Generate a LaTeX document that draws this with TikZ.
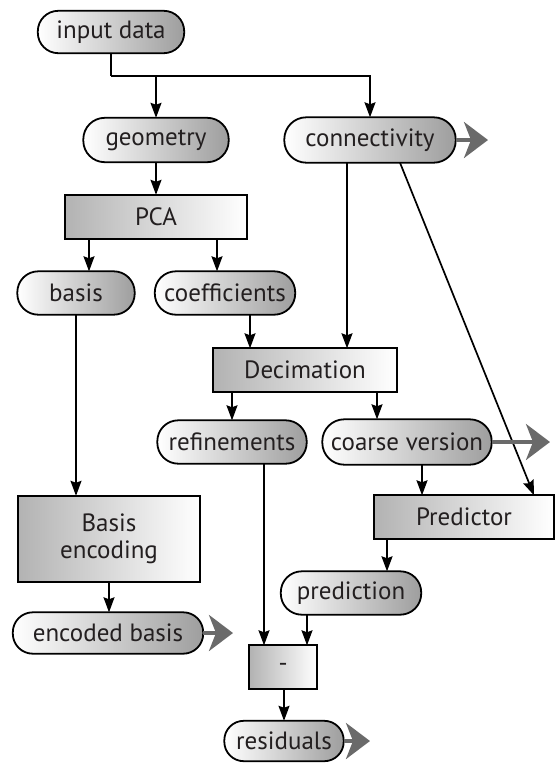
\documentclass[tikz,border=0pt]{standalone}
\usepackage{fontspec}
\setmainfont{PT Sans}
\usetikzlibrary{shapes.misc,arrows.meta}
\definecolor{txt}{HTML}{231F20}
\definecolor{bord}{HTML}{000000}
\definecolor{garrow}{HTML}{6A6A6A}
\tikzset{
  pill/.style={rounded rectangle, inner sep=0pt,
    text=txt, font=\fontsize{25}{28}\selectfont,
    path picture={\shade[left color=white, right color=black!38]
      (path picture bounding box.south west) rectangle (path picture bounding box.north east);}},
  box/.style={rectangle, inner sep=0pt,
    text=txt, font=\fontsize{25}{28}\selectfont, align=center,
    path picture={\shade[left color=black!30, right color=white]
      (path picture bounding box.south west) rectangle (path picture bounding box.north east);}},
  edge/.style={draw=bord, line width=1.8pt},
  arr/.style={line width=1.7pt, -{Stealth[length=15pt,width=11pt,inset=2pt]}},
  ln/.style={line width=1.7pt},
  outarr/.style={line width=4pt, draw=garrow, -{Stealth[length=24pt,width=36pt,inset=7pt]}},
}
\newcommand\pillrim[2]{\draw[edge, rounded corners=#2pt] (#1.west |- #1.north) rectangle (#1.east |- #1.south);}
\newcommand\boxrim[1]{\draw[edge] (#1.north west) rectangle (#1.south east);}
\begin{document}
\begin{tikzpicture}[x=1pt,y=-1pt]
\useasboundingbox (0,0) rectangle (555,763);
% pills
\node[pill, minimum width=146pt, minimum height=42pt] (input) at (111,32) {input data};
\node[pill, minimum width=145pt, minimum height=44pt] (geo) at (156,140) {geometry};
\node[pill, minimum width=171pt, minimum height=45pt] (conn) at (370,140) {connectivity};
\node[pill, minimum width=117pt, minimum height=43pt] (basis) at (76,293) {basis};
\node[pill, minimum width=140pt, minimum height=43pt] (coef) at (225,293) {coefficients};
\node[pill, minimum width=149pt, minimum height=43pt] (refi) at (232,442) {refinements};
\node[pill, minimum width=169pt, minimum height=45pt] (coarse) at (407,442) {coarse version};
\node[pill, minimum width=190pt, minimum height=41pt] (encb) at (108,633) {encoded basis};
\node[pill, minimum width=140pt, minimum height=43pt] (pred) at (351,593) {prediction};
\node[pill, minimum width=119pt, minimum height=40pt] (res) at (284,741) {residuals};
% boxes
\node[box, minimum width=182pt, minimum height=44pt] (pca) at (156,217) {PCA};
\node[box, minimum width=183pt, minimum height=43pt] (deci) at (305,370) {Decimation};
\node[box, minimum width=182pt, minimum height=86pt] (benc) at (109,539) {Basis\\[-1pt]encoding};
\node[box, minimum width=179pt, minimum height=43pt] (predictor) at (464,517) {Predictor};
\node[box, minimum width=67pt, minimum height=43pt] (minus) at (283,667) {-};
% rims
\pillrim{input}{20.5}
\pillrim{geo}{21.5}
\pillrim{conn}{22}
\pillrim{basis}{21}
\pillrim{coef}{21}
\pillrim{refi}{21}
\pillrim{coarse}{22}
\pillrim{encb}{20}
\pillrim{pred}{21}
\pillrim{res}{19.5}
\boxrim{pca}
\boxrim{deci}
\boxrim{benc}
\boxrim{predictor}
\boxrim{minus}
% connectors
\coordinate (j) at (111,76);
\draw[ln] (input.south) -- (j);
\draw[arr] (j) -| (conn.north);
\draw[arr] (geo.north |- j) -- (geo.north);
\draw[arr] (geo.south) -- (pca.north);
\draw[arr] (pca.south -| 89,0) -- (basis.north -| 89,0);
\draw[arr] (pca.south -| 217,0) -- (coef.north -| 217,0);
\draw[arr] (basis.south) -- (basis.south |- benc.north);
\draw[arr] (benc.south) -- (benc.south |- encb.north);
\draw[arr] (coef.south -| 250,0) -- (deci.north -| 250,0);
\draw[arr] (conn.south -| 347,0) -- (deci.north -| 347,0);
\draw[arr] (conn.south -| 400,0) -- (predictor.north -| 534,0);
\draw[arr] (deci.south -| 232,0) -- (refi.north -| 232,0);
\draw[arr] (deci.south -| 377,0) -- (coarse.north -| 377,0);
\draw[arr] (coarse.south -| 422,0) -- (predictor.north -| 422,0);
\draw[arr] (refi.south -| 264,0) -- (minus.north -| 264,0);
\draw[arr] (predictor.south -| 387,0) -- (pred.north -| 387,0);
\draw[arr] (pred.south -| 307,0) -- (minus.north -| 307,0);
\draw[arr] (minus.south -| 284,0) -- (res.north -| 284,0);
% outgoing grey arrows
\coordinate (o1) at (488,140);
\coordinate (o2) at (550,442);
\coordinate (o3) at (233,633);
\coordinate (o4) at (370,741);
\draw[outarr] (conn.east) -- (o1);
\draw[outarr] (coarse.east) -- (o2);
\draw[outarr] (encb.east) -- (o3);
\draw[outarr] (res.east) -- (o4);
\end{tikzpicture}
\end{document}
